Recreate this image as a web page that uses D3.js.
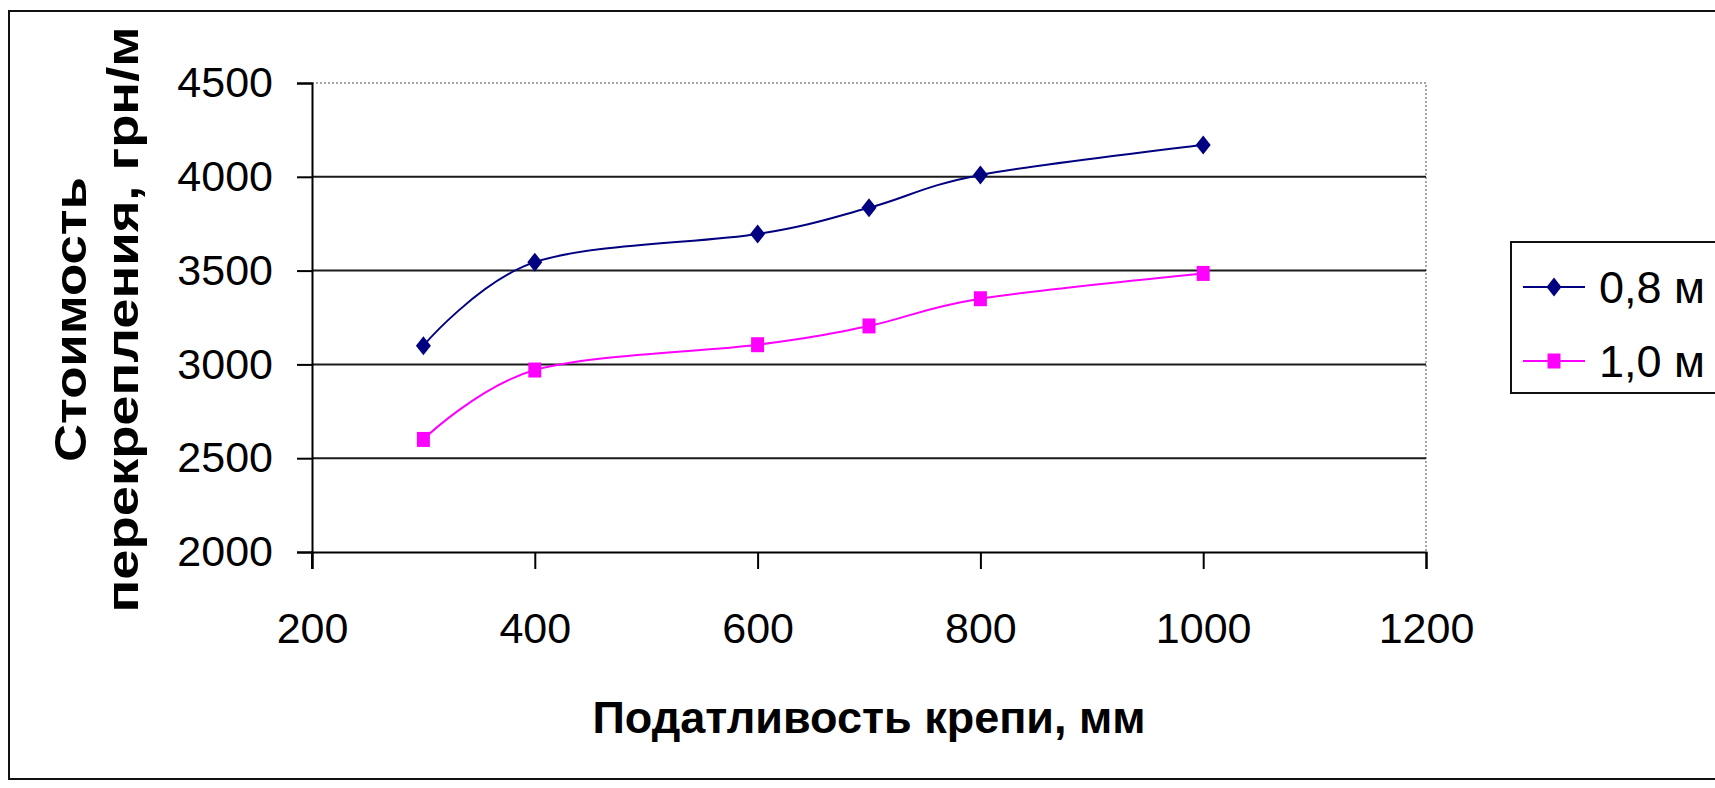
<!DOCTYPE html>
<meta charset="utf-8">
<style>
  body { margin: 0; background: #fff; }
  text { font-family: Arial, "Liberation Sans", sans-serif; fill: #000; }
</style>
<body>
<div id="chart"></div>
<script src="https://d3js.org/d3.v7.min.js"></script>
<script>
const compliance = [300, 400, 600, 700, 800, 1000];          // податливость крепи, мм
const cost08 = [3100, 3545, 3695, 3835, 4010, 4170];         // 0,8 м
const cost10 = [2600, 2970, 3105, 3205, 3350, 3485];         // 1,0 м
const seriesNames = ["0,8 м", "1,0 м"];
const seriesColors = ["#000080", "#ff00ff"];
const xTicks = [200, 400, 600, 800, 1000, 1200];
const yTicks = [2000, 2500, 3000, 3500, 4000, 4500];
const xTitle = "Податливость крепи, мм";
const yTitle = ["Стоимость", "перекрепления, грн/м"];

const W = 1715, H = 788;
const plot = { left: 312, right: 1426, top: 83, bottom: 552 };

const svg = d3.select("#chart").append("svg")
    .attr("width", W)
    .attr("height", H);

// outer chart border (right side runs off the picture)
svg.append("rect")
    .attr("x", 9).attr("y", 11)
    .attr("width", W + 20).attr("height", 768)
    .attr("fill", "none")
    .attr("stroke", "#111")
    .attr("stroke-width", 2);

const x = d3.scaleLinear().domain([200, 1200]).range([plot.left, plot.right]);
const y = d3.scaleLinear().domain([2000, 4500]).range([plot.bottom, plot.top]);

// plot area border: dotted grey top and right
svg.append("path")
    .attr("d", `M${x(200)},${y(4500)}H${x(1200)}V${y(2000)}`)
    .attr("fill", "none")
    .attr("stroke", "#888")
    .attr("stroke-width", 1.5)
    .attr("stroke-dasharray", "2,2");

// gridlines
svg.append("g")
  .selectAll("line")
  .data(yTicks.filter(v => v > 2000 && v < 4500))
  .join("line")
    .attr("x1", x(200)).attr("x2", x(1200))
    .attr("y1", d => y(d)).attr("y2", d => y(d))
    .attr("stroke", "#1a1a1a")
    .attr("stroke-width", 2);

// axes
const yAxis = svg.append("g")
    .attr("transform", `translate(${plot.left},0)`)
    .call(d3.axisLeft(y).tickValues(yTicks).tickSize(15).tickPadding(24).tickFormat(d3.format("d")));

const xAxis = svg.append("g")
    .attr("transform", `translate(0,${plot.bottom})`)
    .call(d3.axisBottom(x).tickValues(xTicks).tickSize(17).tickPadding(43).tickFormat(d3.format("d")));

[yAxis, xAxis].forEach(g => {
  g.select(".domain").attr("stroke", "#000").attr("stroke-width", 2);
  g.selectAll(".tick line").attr("stroke", "#000").attr("stroke-width", 2);
  g.selectAll(".tick text")
    .attr("font-size", 43)
    .attr("font-family", "Arial, 'Liberation Sans', sans-serif")
    .attr("fill", "#000");
});
// y axis line also runs down past the x axis (the 200 tick)
svg.append("line")
    .attr("x1", x(200)).attr("x2", x(200))
    .attr("y1", y(2000)).attr("y2", y(2000) + 17)
    .attr("stroke", "#000").attr("stroke-width", 2);

// series
const series = [cost08, cost10].map((vals, i) => ({
  name: seriesNames[i],
  color: seriesColors[i],
  points: vals.map((v, j) => ({ x: compliance[j], y: v }))
}));

const line = d3.line()
    .x(d => x(d.x))
    .y(d => y(d.y))
    .curve(d3.curveCatmullRom.alpha(0));

const diamond = (w, h) => `M0,${-h / 2}L${w / 2},0L0,${h / 2}L${-w / 2},0Z`;
const square = (w, h) => `M${-w / 2},${-h / 2}h${w}v${h}h${-w}Z`;
const markerPath = [diamond(15, 19), square(13, 15)];

series.forEach((s, i) => {
  svg.append("path")
      .datum(s.points)
      .attr("d", line)
      .attr("fill", "none")
      .attr("stroke", s.color)
      .attr("stroke-width", 2);

  svg.append("g")
    .selectAll("path")
    .data(s.points)
    .join("path")
      .attr("transform", d => `translate(${x(d.x)},${y(d.y)})`)
      .attr("d", markerPath[i])
      .attr("fill", s.color);
});

// titles
svg.append("text")
    .attr("x", (plot.left + plot.right) / 2)
    .attr("y", 733)
    .attr("text-anchor", "middle")
    .attr("font-size", 45)
    .attr("font-weight", "bold")
    .text(xTitle);

const yMid = (plot.top + plot.bottom) / 2 + 2;
[[86, 285], [138, 586]].forEach(([bx, len], i) => {
  svg.append("text")
      .attr("transform", `translate(${bx},${yMid}) rotate(-90)`)
      .attr("text-anchor", "middle")
      .attr("font-size", 45)
      .attr("font-weight", "bold")
      .attr("textLength", len)
      .attr("lengthAdjust", "spacingAndGlyphs")
      .text(yTitle[i]);
});

// legend
const legend = svg.append("g");
legend.append("rect")
    .attr("x", 1511).attr("y", 242)
    .attr("width", 260).attr("height", 151)
    .attr("fill", "#fff")
    .attr("stroke", "#111")
    .attr("stroke-width", 2);

const legY = [287, 361];
series.forEach((s, i) => {
  const g = legend.append("g").attr("transform", `translate(0,${legY[i]})`);
  g.append("line")
      .attr("x1", 1523).attr("x2", 1585)
      .attr("stroke", s.color).attr("stroke-width", 2);
  g.append("path")
      .attr("transform", "translate(1554,0)")
      .attr("d", markerPath[i])
      .attr("fill", s.color);
  g.append("text")
      .attr("x", 1599)
      .attr("y", 16)
      .attr("font-size", 45)
      .text(s.name);
});
</script>
</body>
